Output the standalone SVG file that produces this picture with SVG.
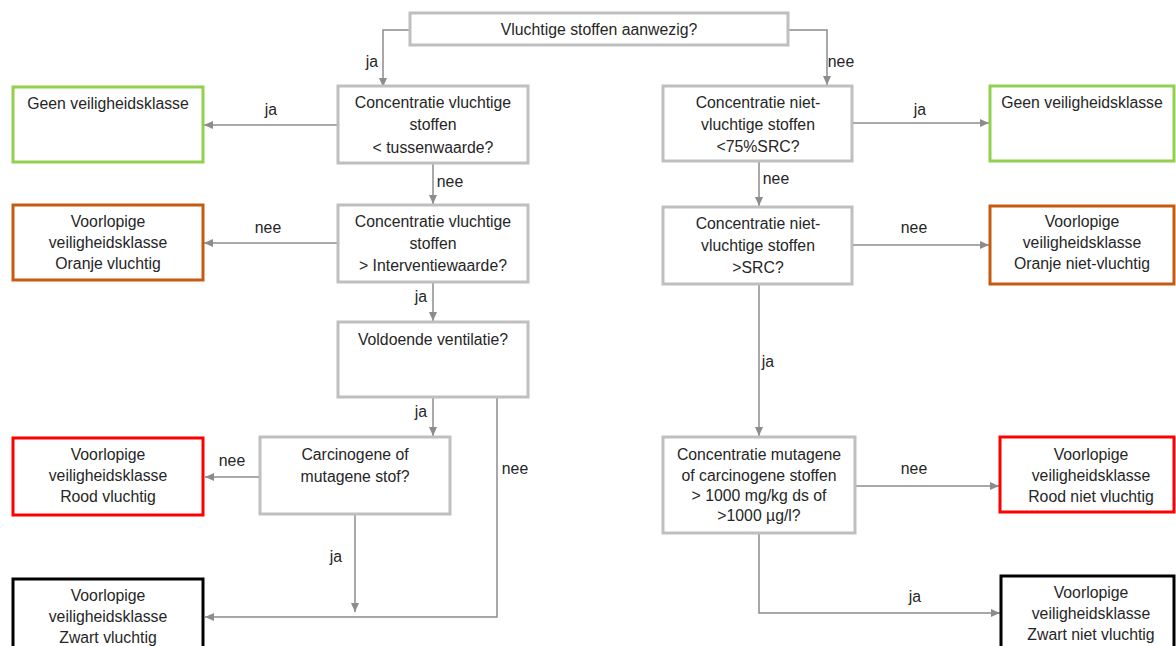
<svg xmlns="http://www.w3.org/2000/svg" width="1176" height="646" viewBox="0 0 1176 646">
<style>
.q{fill:#fff;stroke:#bfbfbf;stroke-width:3}
.g{fill:#fff;stroke:#92d050;stroke-width:3}
.o{fill:#fff;stroke:#c55a11;stroke-width:3}
.r{fill:#fff;stroke:#ff0000;stroke-width:3}
.k{fill:#fff;stroke:#000;stroke-width:3}
text{font-family:"Liberation Sans",Arial,sans-serif;font-size:15.8px;fill:#262626;text-anchor:middle}
.c{fill:none;stroke:#8c8c8c;stroke-width:1.5}
</style>
<defs>
<marker id="a" markerUnits="userSpaceOnUse" markerWidth="10" markerHeight="10" refX="9" refY="5" orient="auto">
<path d="M0,1 L9,5 L0,9 Z" fill="#8c8c8c"/>
</marker>
</defs>
<rect width="1176" height="646" fill="#fff"/>
<g id="connectors">
<path class="c" d="M410,30 H383 V87" marker-end="url(#a)"/>
<path class="c" d="M788,30 H827 V85" marker-end="url(#a)"/>
<path class="c" d="M338,125 H204" marker-end="url(#a)"/>
<path class="c" d="M433,163 V204" marker-end="url(#a)"/>
<path class="c" d="M338,243 H204" marker-end="url(#a)"/>
<path class="c" d="M433,282 V321" marker-end="url(#a)"/>
<path class="c" d="M433,397 V436" marker-end="url(#a)"/>
<path class="c" d="M260,477 H205" marker-end="url(#a)"/>
<path class="c" d="M497,397 V617 H205" marker-end="url(#a)"/>
<path class="c" d="M355,514 V612" marker-end="url(#a)"/>
<path class="c" d="M852,123 H989" marker-end="url(#a)"/>
<path class="c" d="M759,161 V206" marker-end="url(#a)"/>
<path class="c" d="M852,245 H989" marker-end="url(#a)"/>
<path class="c" d="M759,284 V436" marker-end="url(#a)"/>
<path class="c" d="M855,486 H999" marker-end="url(#a)"/>
<path class="c" d="M759,533 V613 H1000" marker-end="url(#a)"/>
<text x="372" y="67">ja</text>
<text x="841" y="67">nee</text>
<text x="271" y="115">ja</text>
<text x="450" y="187">nee</text>
<text x="268" y="233">nee</text>
<text x="421" y="302">ja</text>
<text x="421" y="417">ja</text>
<text x="232" y="466">nee</text>
<text x="515" y="474">nee</text>
<text x="336" y="562">ja</text>
<text x="920" y="115">ja</text>
<text x="776" y="184">nee</text>
<text x="914" y="233">nee</text>
<text x="768" y="367">ja</text>
<text x="914" y="474">nee</text>
<text x="915" y="602">ja</text>
</g>
<g id="start">
<rect class="q" x="410" y="13" width="378" height="32"/>
<text x="599" y="35">Vluchtige stoffen aanwezig?</text>
</g>
<g id="q1">
<rect class="q" x="338" y="86" width="190" height="77"/>
<text x="433" y="108">Concentratie vluchtige</text>
<text x="433" y="130">stoffen</text>
<text x="433" y="153">&lt; tussenwaarde?</text>
</g>
<g id="q2">
<rect class="q" x="338" y="205" width="190" height="77"/>
<text x="433" y="227">Concentratie vluchtige</text>
<text x="433" y="249">stoffen</text>
<text x="433" y="271">&gt; Interventiewaarde?</text>
</g>
<g id="q3">
<rect class="q" x="338" y="322" width="190" height="75"/>
<text x="433" y="345">Voldoende ventilatie?</text>
</g>
<g id="q4">
<rect class="q" x="260" y="437" width="190" height="77"/>
<text x="355" y="460">Carcinogene of</text>
<text x="355" y="482">mutagene stof?</text>
</g>
<g id="l1">
<rect class="g" x="13" y="87" width="190" height="75"/>
<text x="108" y="109">Geen veiligheidsklasse</text>
</g>
<g id="l2">
<rect class="o" x="13" y="205" width="190" height="75"/>
<text x="108" y="227">Voorlopige</text>
<text x="108" y="248">veiligheidsklasse</text>
<text x="108" y="269">Oranje vluchtig</text>
</g>
<g id="l3">
<rect class="r" x="13" y="438" width="190" height="77"/>
<text x="108" y="460">Voorlopige</text>
<text x="108" y="481">veiligheidsklasse</text>
<text x="108" y="502">Rood vluchtig</text>
</g>
<g id="l4">
<rect class="k" x="13" y="579" width="190" height="80"/>
<text x="108" y="601">Voorlopige</text>
<text x="108" y="622">veiligheidsklasse</text>
<text x="108" y="643">Zwart vluchtig</text>
</g>
<g id="r1">
<rect class="q" x="663" y="86" width="189" height="75"/>
<text x="758" y="108">Concentratie niet-</text>
<text x="758" y="130">vluchtige stoffen</text>
<text x="758" y="152">&lt;75%SRC?</text>
</g>
<g id="r2">
<rect class="q" x="663" y="207" width="189" height="77"/>
<text x="758" y="229">Concentratie niet-</text>
<text x="758" y="251">vluchtige stoffen</text>
<text x="758" y="273">&gt;SRC?</text>
</g>
<g id="r3">
<rect class="q" x="663" y="437" width="192" height="96"/>
<text x="759" y="460">Concentratie mutagene</text>
<text x="759" y="481">of carcinogene stoffen</text>
<text x="759" y="501">&gt; 1000 mg/kg ds of</text>
<text x="759" y="521">&gt;1000 µg/l?</text>
</g>
<g id="rl1">
<rect class="g" x="990" y="86" width="184" height="75"/>
<text x="1082" y="108">Geen veiligheidsklasse</text>
</g>
<g id="rl2">
<rect class="o" x="990" y="206" width="184" height="78"/>
<text x="1082" y="227">Voorlopige</text>
<text x="1082" y="248">veiligheidsklasse</text>
<text x="1082" y="269">Oranje niet-vluchtig</text>
</g>
<g id="rl3">
<rect class="r" x="1000" y="437" width="174" height="75"/>
<text x="1091" y="460">Voorlopige</text>
<text x="1091" y="481">veiligheidsklasse</text>
<text x="1091" y="502">Rood niet vluchtig</text>
</g>
<g id="rl4">
<rect class="k" x="1001" y="576" width="173" height="85"/>
<text x="1091" y="598">Voorlopige</text>
<text x="1091" y="619">veiligheidsklasse</text>
<text x="1091" y="640">Zwart niet vluchtig</text>
</g>
</svg>
